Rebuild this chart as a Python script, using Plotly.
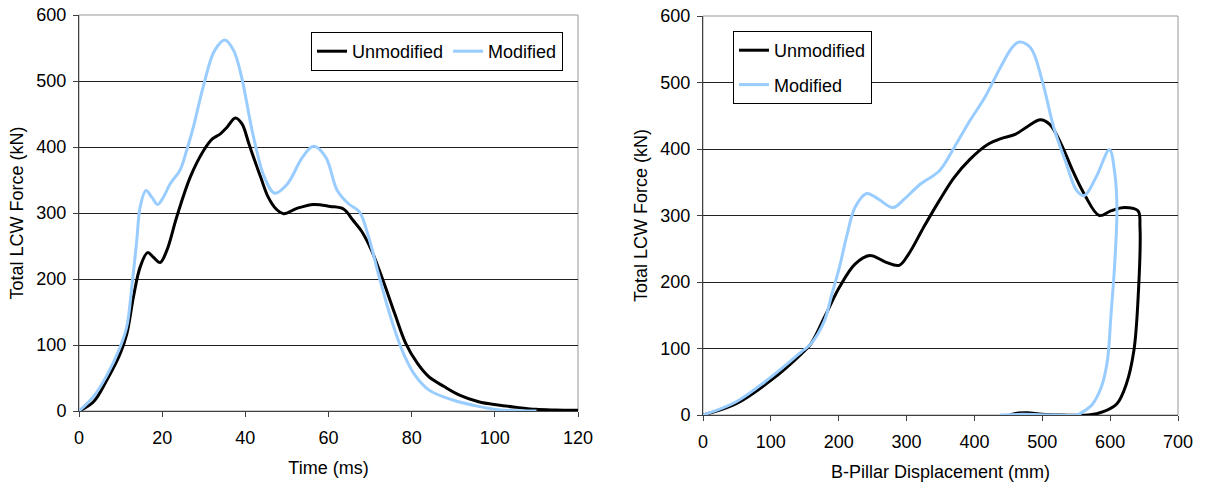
import plotly.graph_objects as go

# ---------------- Left chart: Force vs Time ----------------
time_unmod = [0, 3.5, 6.7, 9.9, 11.5, 13.1, 14.7, 16.5, 17.9, 19.5, 21.1, 23.5, 26.8, 30, 32, 34, 35.6,
              37.6, 39.2, 40.9, 43.7, 45.5, 47.4, 49.2, 52.4, 56.4, 60.4, 63.6, 65.9, 68, 70.3, 73.1,
              75.9, 78.6, 81.4, 84.1, 87.8, 91.5, 96.1, 100.7, 105.3, 109.9, 114.5, 120]
force_unmod_t = [0, 14, 47, 87, 117, 173, 218, 240, 233, 225, 243, 294, 355, 395, 412, 420, 430,
                 444, 435, 404, 354, 324, 306, 299, 307, 313, 310, 306, 289, 272, 244, 198,
                 148, 102, 72, 52, 37, 24, 14, 9, 5.5, 2.5, 1.5, 1]

time_mod = [0, 3.5, 6.7, 9.9, 11.5, 12.7, 13.9, 14.7, 16.1, 17.5, 18.9, 20.3, 21.9, 24.3, 25.9, 27.5,
            29.9, 32.6, 35.1, 37.2, 39.1, 41.8, 44.6, 47.1, 50.1, 53.8, 56.4, 59.3, 62.1, 64.8, 67.4,
            69.4, 72.2, 74.9, 77.7, 80.5, 84.1, 89.7, 96.1, 100.7, 105, 110]
force_mod_t = [0, 22, 54, 97, 128, 188, 259, 309, 334, 324, 313, 324, 344, 365, 395, 430,
               492, 546, 562, 546, 506, 420, 354, 330, 344, 385, 401, 385, 334, 314, 302,
               269, 203, 143, 92, 57, 32, 17, 7, 2, 0.5, 0]

# ---------------- Right chart: Force vs B-Pillar displacement ----------------
disp_unmod = [0, 49, 100, 145, 159, 179, 201, 224, 246, 269, 289, 303, 325, 348, 370, 393, 420, 440,
              460, 480, 497, 511, 528, 545, 562, 584, 601, 621, 641, 644, 641, 635, 624, 610, 590,
              568, 528, 500, 478, 465, 452]
force_unmod_d = [0, 17, 52, 92, 107, 147, 192, 227, 240, 230, 225, 242, 282, 322, 357, 384, 407, 416,
                 422, 435, 444, 437, 407, 367, 332, 300, 307, 312, 307, 282, 172, 97, 47, 17, 5,
                 0, 0, 1, 3.5, 3, 0]

disp_mod = [0, 49, 100, 145, 159, 179, 190, 201, 212.5, 224, 241, 258, 280, 297, 320, 348, 370, 393,
            415, 438, 455, 466, 483, 500, 517, 534, 551, 562, 579, 599, 607, 610, 607, 601, 596,
            587, 573, 556, 551, 517, 472, 438]
force_mod_d = [0, 20, 57, 95, 107, 142, 182, 222, 272, 312, 333, 325, 312, 325, 347, 367, 402, 442,
               477, 522, 552, 561, 552, 502, 432, 382, 337, 330, 357, 399, 362, 312, 232, 147, 82,
               42, 15, 2.5, 0, 0, 1, 0]

series_names = ["Unmodified", "Modified"]
x_ticks_time = [0, 20, 40, 60, 80, 100, 120]
x_ticks_disp = [0, 100, 200, 300, 400, 500, 600, 700]
y_ticks = [0, 100, 200, 300, 400, 500, 600]

BLACK = "#000000"
BLUE = "#99CCFF"
FONT = "Liberation Sans, Arial, sans-serif"
FS = 18

W, H = 1208, 482
def fx(px):
    return px / W
def fy(py):
    return (H - py) / H

fig = go.Figure()

def line(color):
    return dict(color=color, width=3, shape="spline", smoothing=1.0)

fig.add_trace(go.Scatter(x=time_unmod, y=force_unmod_t, mode="lines", name=series_names[0],
                         line=line(BLACK), xaxis="x", yaxis="y", legend="legend"))
fig.add_trace(go.Scatter(x=time_mod, y=force_mod_t, mode="lines", name=series_names[1],
                         line=line(BLUE), xaxis="x", yaxis="y", legend="legend"))
fig.add_trace(go.Scatter(x=disp_unmod, y=force_unmod_d, mode="lines", name=series_names[0],
                         line=line(BLACK), xaxis="x2", yaxis="y2", legend="legend2",
                         legendgroup="a"))
fig.add_trace(go.Scatter(x=disp_mod, y=force_mod_d, mode="lines", name=series_names[1],
                         line=line(BLUE), xaxis="x2", yaxis="y2", legend="legend2",
                         legendgroup="b"))

axis_common = dict(showline=True, linecolor="#404040", linewidth=1, ticks="outside", ticklen=5,
                   tickcolor="#404040", zeroline=False, automargin=False,
                   ticklabeloverflow="allow",
                   tickfont=dict(family=FONT, size=FS, color="#000"),
                   title_font=dict(family=FONT, size=FS, color="#000"))

fig.update_layout(
    width=W, height=H,
    margin=dict(l=0, r=0, t=0, b=0),
    paper_bgcolor="white", plot_bgcolor="white",
    font=dict(family=FONT, size=FS, color="#000"),
    xaxis=dict(domain=[fx(79), fx(578)], range=[0, 120], tickvals=x_ticks_time, anchor="y",
               showgrid=False, ticklabelstandoff=5,
               title=dict(text="Time (ms)", standoff=14), **axis_common),
    yaxis=dict(domain=[fy(411), fy(15)], range=[0, 600], tickvals=y_ticks, anchor="x",
               showgrid=True, gridcolor="#222", gridwidth=1, ticklabelstandoff=3,
               title=dict(text="Total LCW Force (kN)", standoff=8), **axis_common),
    xaxis2=dict(domain=[fx(703), fx(1178)], range=[0, 700], tickvals=x_ticks_disp, anchor="y2",
                showgrid=False, ticklabelstandoff=5,
                title=dict(text="B-Pillar Displacement (mm)", standoff=14), **axis_common),
    yaxis2=dict(domain=[fy(415), fy(16)], range=[0, 600], tickvals=y_ticks, anchor="x2",
                showgrid=True, gridcolor="#222", gridwidth=1, ticklabelstandoff=3,
                title=dict(text="Total LCW Force (kN)", standoff=8), **axis_common),
    legend=dict(orientation="h", x=fx(311), y=fy(32), xanchor="left", yanchor="top",
                bgcolor="white", bordercolor="#000", borderwidth=1,
                font=dict(family=FONT, size=FS, color="#000")),
    legend2=dict(orientation="v", x=fx(733), y=fy(31), xanchor="left", yanchor="top",
                 bgcolor="white", bordercolor="#000", borderwidth=1, traceorder="grouped",
                 tracegroupgap=8,
                 font=dict(family=FONT, size=FS, color="#000")),
    shapes=[
        dict(type="rect", xref="x domain", yref="y domain", x0=0, x1=1, y0=0, y1=1,
             line=dict(color="#999999", width=1), layer="below"),
        dict(type="rect", xref="x2 domain", yref="y2 domain", x0=0, x1=1, y0=0, y1=1,
             line=dict(color="#999999", width=1), layer="below"),
    ],
)

fig.write_html("out.html", config={"displayModeBar": False},
               post_script="document.body.style.margin='0';")
